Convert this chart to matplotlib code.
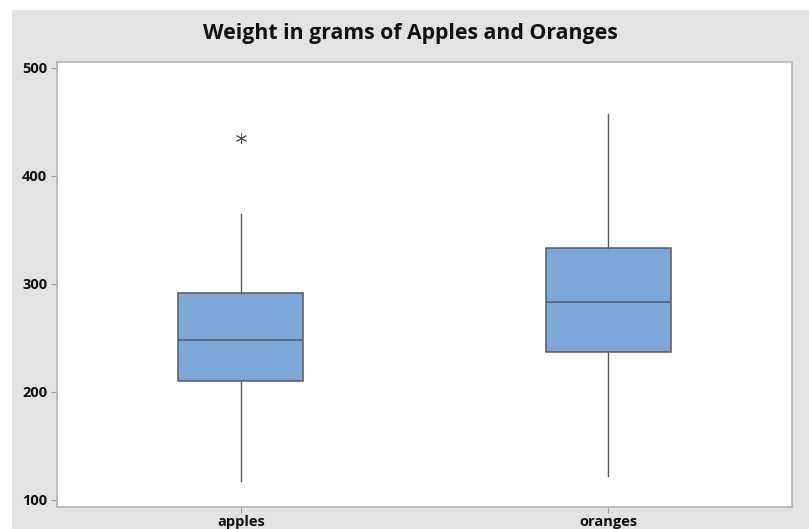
import matplotlib.pyplot as plt
from matplotlib.patches import Rectangle

# five-number summaries
groups = ['apples', 'oranges']
whislo = [118, 122]
q1 = [210, 237]
med = [248, 283]
q3 = [292, 333]
whishi = [365, 457]
outliers = [[435], []]

yticks = [100, 200, 300, 400, 500]

W, H = 809, 529
fig = plt.figure(figsize=(W / 100, H / 100), dpi=100)
fig.patch.set_facecolor('white')
# grey panel behind everything (white strip on top and left)
fig.patches.append(Rectangle((12 / W, 0), 1, (H - 10) / H, transform=fig.transFigure,
                             facecolor='#e3e3e3', edgecolor='none', zorder=-1))

ax = fig.add_axes([57 / W, 1 - 507 / H, (792 - 57) / W, (507 - 62) / H])
ax.set_facecolor('white')

stats = []
for i in range(len(groups)):
    stats.append(dict(label=groups[i], whislo=whislo[i], q1=q1[i], med=med[i],
                      q3=q3[i], whishi=whishi[i], fliers=outliers[i]))

ax.bxp(stats, positions=[1, 2], widths=0.34, patch_artist=True, showcaps=False,
       boxprops=dict(facecolor='#7ba7d9', edgecolor='#5a5a5a', linewidth=1.1),
       medianprops=dict(color='#5a5a5a', linewidth=1.1),
       whiskerprops=dict(color='#5a5a5a', linewidth=1.0),
       flierprops=dict(marker=(6, 2, 0), markersize=8, markeredgecolor='#555555',
                       markeredgewidth=0.7, linestyle='none'))

ax.set_xlim(0.5, 2.5)
ax.set_ylim(93.5, 505.5)
ax.set_yticks(yticks)
ax.set_xticks([1, 2])
ax.set_xticklabels(groups)

for s in ax.spines.values():
    s.set_color('#b4b4b4')
    s.set_linewidth(1.2)
ax.tick_params(axis='both', colors='#9a9a9a', length=4, width=0.8, labelcolor='#111111',
               labelsize=10.5)
for lab in ax.get_xticklabels() + ax.get_yticklabels():
    lab.set_fontfamily('Open Sans')
    lab.set_fontweight('bold')
ax.tick_params(axis='y', pad=3)
ax.tick_params(axis='x', pad=2)

fig.text(0.5 * (12 + W) / W, 1 - 33 / H, 'Weight in grams of Apples and Oranges',
         ha='center', va='center', fontsize=15.3, fontfamily='Open Sans',
         fontweight='bold', color='#111111')

fig.savefig('out.png', dpi=100, facecolor=fig.get_facecolor())
